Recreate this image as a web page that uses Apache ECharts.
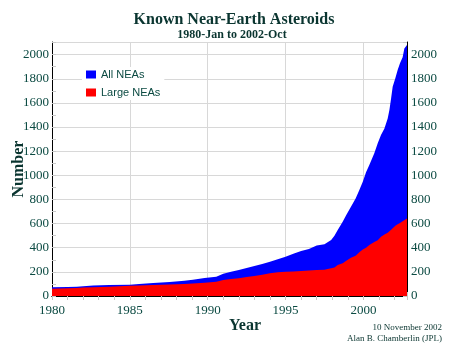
<!DOCTYPE html>
<html>
<head>
<meta charset="utf-8">
<script src="https://cdn.jsdelivr.net/npm/echarts@6/dist/echarts.min.js"></script>
<style>html,body{margin:0;padding:0;background:#fff}#c{width:450px;height:348px}</style>
</head>
<body>
<div id="c"></div>
<script>
const years = [1980.0,1981.0,1981.6,1982.0,1982.65,1983.67,1985.0,1985.6,1986.5,1987.56,1988.5,1989.05,1989.8,1990.55,1991.0,1991.5,1992.0,1992.5,1993.0,1993.5,1994.0,1994.5,1995.0,1995.5,1996.0,1996.5,1997.0,1997.5,1997.7,1997.93,1998.14,1998.35,1998.67,1998.9,1999.2,1999.5,1999.74,1999.96,2000.17,2000.38,2000.5,2000.7,2000.92,2001.13,2001.35,2001.56,2001.67,2001.78,2001.88,2002.05,2002.2,2002.35,2002.52,2002.63,2002.8];
const allNEAs = [72,74,76,80,86,91,94,99,107,116,127,135,149,160,185,200,215,232,249,266,284,305,326,350,373,389,418,428,445,464,500,547,616,671,740,809,878,947,1025,1085,1099,1182,1265,1334,1389,1472,1541,1638,1735,1804,1873,1928,1978,2052,2080];
const largeNEAs = [60,64,67,70,72,77,84,87,91,96,100,103,110,118,133,140,147,157,166,177,188,196,201,204,207,212,215,218,224,230,237,257,271,293,318,334,362,385,400,423,435,448,462,490,510,525,533,550,565,582,595,605,620,635,642];
const yTicks = [0,200,400,600,800,1000,1200,1400,1600,1800,2000];
const xTicks = [1980,1985,1990,1995,2000];

const chart = echarts.init(document.getElementById('c'), null, {renderer:'canvas'});
const labelColor = '#0b4a42';
const serif = '"Liberation Serif","DejaVu Serif",serif';
function pairs(v){ return years.map((y,i)=>[y, v[i]]); }
const xBase = {
  type:'value', min:1980, max:2002.8, interval:5,
  axisLine:{show:true, lineStyle:{color:'#000', width:1}},
  axisTick:{show:true, inside:true, length:4, lineStyle:{color:'#c8c8c8'}},
  minorTick:{show:true, splitNumber:5, length:4, lineStyle:{color:'#c8c8c8'}},
};
const yBase = {
  type:'value', min:0, max:2105, interval:200,
  axisLine:{show:true, lineStyle:{color:'#000', width:1}},
  axisTick:{show:true, inside:true, length:4, lineStyle:{color:'#c8c8c8'}},
  minorTick:{show:true, splitNumber:2, length:4, lineStyle:{color:'#c8c8c8'}},
};
const yFmt = v => yTicks.indexOf(v) >= 0 ? String(v) : '';
const xFmt = v => xTicks.indexOf(v) >= 0 ? String(v) : '';
chart.setOption({
  animation:false,
  backgroundColor:'#fff',
  title:[
    {text:'Known Near-Earth Asteroids', left:229, top:7, textAlign:'center',
     textStyle:{fontFamily:serif, fontWeight:'bold', fontSize:16, color:'#0a3530'}},
    {text:'1980-Jan to 2002-Oct', left:227, top:24, textAlign:'center',
     textStyle:{fontFamily:serif, fontWeight:'bold', fontSize:12, color:'#0a3530'}}
  ],
  legend:{
    data:['All NEAs','Large NEAs'], orient:'vertical', left:82, top:67,
    itemWidth:10, itemHeight:8, itemGap:7, icon:'rect',
    backgroundColor:'#fff', padding:[2,4,2,4],
    textStyle:{fontFamily:'"Liberation Sans",Arial,sans-serif', fontSize:11, color:labelColor}
  },
  grid:{left:52, right:43, top:42, bottom:52},
  xAxis:[
    Object.assign({}, xBase, {position:'bottom',
      axisLabel:{show:true, formatter:xFmt, showMaxLabel:false, margin:8, fontFamily:serif, fontSize:13, color:labelColor},
      splitLine:{show:true, lineStyle:{color:'#d8d8d8'}}}),
    Object.assign({}, xBase, {position:'top',
      axisLabel:{show:false}, splitLine:{show:false}})
  ],
  yAxis:[
    Object.assign({}, yBase, {position:'left',
      axisLabel:{show:true, formatter:yFmt, showMaxLabel:false, margin:3, fontFamily:serif, fontSize:13, color:labelColor},
      splitLine:{show:true, lineStyle:{color:'#d8d8d8'}}}),
    Object.assign({}, yBase, {position:'right',
      axisLabel:{show:true, formatter:yFmt, showMaxLabel:false, margin:4, fontFamily:serif, fontSize:13, color:labelColor},
      splitLine:{show:false}})
  ],
  series:[
    {name:'All NEAs', type:'line', data:pairs(allNEAs), symbol:'none', z:2,
     itemStyle:{color:'#0000ff'}, lineStyle:{width:0}, areaStyle:{color:'#0000ff', opacity:1}},
    {name:'Large NEAs', type:'line', data:pairs(largeNEAs), symbol:'none', z:3,
     itemStyle:{color:'#ff0000'}, lineStyle:{width:0}, areaStyle:{color:'#ff0000', opacity:1}}
  ],
  graphic:[
    {type:'text', left:229, top:318, style:{text:'Year', fontFamily:serif, fontWeight:'bold', fontSize:16, fill:'#0a3530', textAlign:'center'}},
    {type:'text', x:11, y:169, rotation:Math.PI/2, style:{text:'Number', fontFamily:serif, fontWeight:'bold', fontSize:16, fill:'#0a3530', textAlign:'center', textVerticalAlign:'top'}},
    {type:'text', right:8, top:323, style:{text:'10 November 2002', fontFamily:serif, fontSize:9, fill:'#0a3530', textAlign:'right'}},
    {type:'text', right:8, top:334, style:{text:'Alan B. Chamberlin (JPL)', fontFamily:serif, fontSize:9, fill:'#0a3530', textAlign:'right'}}
  ]
});
</script>
</body>
</html>
